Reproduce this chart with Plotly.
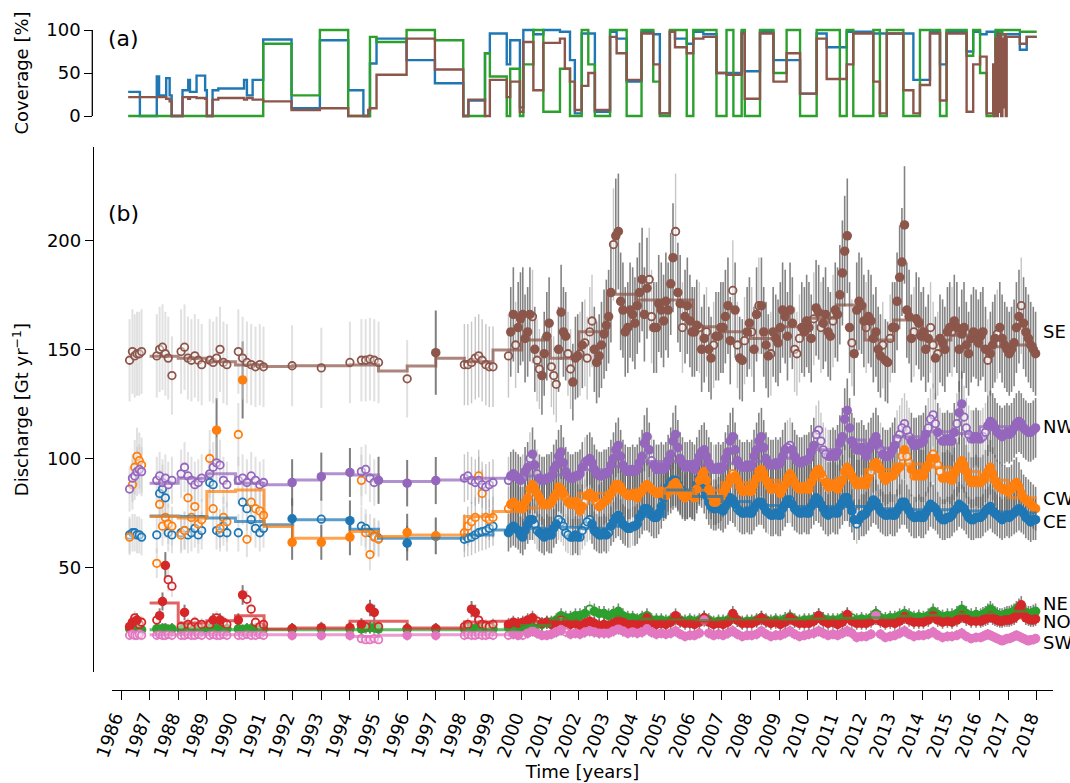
import plotly.graph_objects as go

# ---------------- data ----------------
time_early = [1986.30, 1986.40, 1986.48, 1986.56, 1986.64, 1986.72,
              1987.25, 1987.35, 1987.45, 1987.55, 1987.65, 1987.78,
              1988.10, 1988.22, 1988.34, 1988.46, 1988.58, 1988.70, 1988.82,
              1989.10, 1989.22, 1989.34, 1989.46, 1989.58, 1989.70,
              1990.10, 1990.25, 1990.40, 1990.55, 1990.70, 1990.85, 1990.98,
              1991.98, 1993.00, 1994.00, 1994.40, 1994.55, 1994.70, 1994.85, 1995.00, 1996.00, 1997.00,
              1998.00, 1998.12, 1998.25, 1998.38, 1998.50, 1998.62, 1998.75, 1998.87, 1999.00]
time_dense = [1999.54, 1999.71, 1999.88,
              2000.04, 2000.21, 2000.38, 2000.54, 2000.71, 2000.88,
              2001.04, 2001.21, 2001.38, 2001.54, 2001.71, 2001.88,
              2002.04, 2002.21, 2002.38, 2002.54, 2002.71, 2002.88,
              2003.04, 2003.21, 2003.38, 2003.54, 2003.71, 2003.88,
              2004.04, 2004.21, 2004.38, 2004.54, 2004.71, 2004.88,
              2005.04, 2005.21, 2005.38, 2005.54, 2005.71, 2005.88,
              2006.04, 2006.21, 2006.38, 2006.54, 2006.71, 2006.88,
              2007.04, 2007.21, 2007.38, 2007.54, 2007.71, 2007.88,
              2008.04, 2008.21, 2008.38, 2008.54, 2008.71, 2008.88,
              2009.04, 2009.21, 2009.38, 2009.54, 2009.71, 2009.88,
              2010.04, 2010.21, 2010.38, 2010.54, 2010.71, 2010.88,
              2011.04, 2011.21, 2011.38, 2011.54, 2011.71, 2011.88,
              2012.04, 2012.21, 2012.38, 2012.54, 2012.71, 2012.88,
              2013.04, 2013.21, 2013.38, 2013.54, 2013.71, 2013.88,
              2014.04, 2014.21, 2014.38, 2014.54, 2014.71, 2014.88,
              2015.04, 2015.21, 2015.38, 2015.54, 2015.71, 2015.88,
              2016.04, 2016.12, 2016.21, 2016.29, 2016.38, 2016.46, 2016.54, 2016.62, 2016.71, 2016.79, 2016.88, 2016.96,
              2017.04, 2017.12, 2017.21, 2017.29, 2017.38, 2017.46, 2017.54, 2017.62, 2017.71, 2017.79, 2017.88, 2017.96]
time = time_early + time_dense

# extra samples in between (only read for the four large regions)
time_mid = [1999.62, 1999.79, 1999.96,
            2000.12, 2000.29, 2000.46, 2000.62, 2000.79, 2000.96,
            2001.12, 2001.29, 2001.46, 2001.62, 2001.79, 2001.96,
            2002.12, 2002.29, 2002.46, 2002.62, 2002.79, 2002.96,
            2003.12, 2003.29, 2003.46, 2003.62, 2003.79, 2003.96,
            2004.12, 2004.29, 2004.46, 2004.62, 2004.79, 2004.96,
            2005.12, 2005.29, 2005.46, 2005.62, 2005.79, 2005.96,
            2006.12, 2006.29, 2006.46, 2006.62, 2006.79, 2006.96,
            2007.12, 2007.29, 2007.46, 2007.62, 2007.79, 2007.96,
            2008.12, 2008.29, 2008.46, 2008.62, 2008.79, 2008.96,
            2009.12, 2009.29, 2009.46, 2009.62, 2009.79, 2009.96,
            2010.12, 2010.29, 2010.46, 2010.62, 2010.79, 2010.96,
            2011.12, 2011.29, 2011.46, 2011.62, 2011.79, 2011.96,
            2012.12, 2012.29, 2012.46, 2012.62, 2012.79, 2012.96,
            2013.12, 2013.29, 2013.46, 2013.62, 2013.79, 2013.96,
            2014.12, 2014.29, 2014.46, 2014.62, 2014.79, 2014.96,
            2015.12, 2015.29, 2015.46, 2015.62, 2015.79, 2015.96]

CE = [65, 66, 66, 65, 65, 64,
      65, 84, 86, 82, 66, 65,
      66, 67, 65, 66, 68, 65, 67,
      89, 88, 67, 66, 69, 66,
      66, 80, 77, 72, 68, 66, 68,
      72.4, 72.2, 71.5, 69, 68, 66, 64.5, 63.5, 61.2, 64.3,
      63, 63.5, 64, 65, 66, 66.5, 67, 68, 69,
      66, 69, 67,
      64, 70, 72, 67, 65, 66,
      65, 70, 71, 66, 64, 65,
      64, 69, 72, 67, 65, 66,
      66, 71, 74, 70, 68, 69,
      70, 75, 77, 74, 73, 78,
      84, 89, 90, 86, 83, 84,
      83, 91, 86, 80, 77, 78,
      76, 80, 81, 77, 75, 76,
      75, 79, 80, 76, 74, 75,
      74, 79, 81, 77, 75, 76,
      75, 80, 81, 77, 74, 76,
      75, 80, 82, 76, 70, 74,
      75, 79, 80, 76, 74, 75,
      74, 78, 80, 76, 73, 74,
      73, 77, 78, 75, 72, 73,
      74, 77, 78, 75, 72, 73,
      73, 74, 76, 77, 78, 76, 75, 74, 73, 72, 73, 74,
      73, 74, 75, 76, 77, 76, 75, 73, 72, 71, 72, 72]
CE_mid = [68, 68, 65,
          67, 72, 70, 66, 64, 65,
          68, 72, 69, 65, 64, 64,
          67, 71, 70, 66, 65, 65,
          69, 73, 72, 69, 68, 69,
          73, 77, 76, 73, 75, 82,
          87, 90, 88, 84, 83, 83,
          88, 89, 83, 78, 77, 77,
          78, 82, 79, 76, 75, 75,
          77, 80, 78, 75, 74, 74,
          77, 81, 79, 76, 75, 75,
          78, 82, 79, 75, 75, 75,
          78, 82, 79, 72, 72, 74,
          77, 81, 78, 75, 74, 74,
          76, 80, 78, 74, 73, 73,
          75, 79, 77, 73, 72, 73,
          76, 79, 77, 73, 72, 73]

CW = [64, 88, 96, 101, 99, 97,
      52, 79, 69, 73, 70, 69,
      65, 67, 82, 73, 78, 70, 72,
      100, 77, 113, 68, 73, 71,
      111, 136, 63, 80, 77, 76, 74,
      61.6, 61.6, 64, 90, 66, 56, 64, 63, 66.1, 64.6,
      66, 69, 71, 73, 92, 84, 73, 72, 73,
      77, 80, 78,
      77, 82, 88, 84, 80, 79,
      80, 84, 86, 82, 79, 80,
      76, 80, 84, 82, 78, 80,
      82, 86, 88, 85, 83, 84,
      82, 85, 88, 86, 84, 85,
      83, 86, 89, 85, 82, 84,
      82, 90, 94, 86, 80, 81,
      84, 88, 93, 90, 85, 86,
      85, 91, 95, 90, 86, 87,
      84, 88, 93, 89, 86, 87,
      86, 92, 95, 91, 87, 88,
      86, 90, 96, 92, 88, 89,
      88, 94, 98, 95, 90, 92,
      93, 96, 104, 98, 92, 93,
      92, 97, 102, 97, 91, 92,
      90, 95, 99, 94, 89, 90,
      89, 90, 92, 94, 96, 93, 90, 88, 87, 86, 86, 85,
      85, 86, 88, 89, 87, 84, 82, 81, 80, 79, 78, 77]
CW_mid = [79, 79, 77,
          80, 86, 86, 82, 79, 79,
          82, 87, 84, 80, 79, 78,
          78, 83, 83, 80, 79, 81,
          84, 88, 87, 84, 83, 83,
          84, 87, 87, 85, 84, 84,
          85, 88, 87, 83, 83, 83,
          86, 93, 90, 83, 80, 82,
          86, 91, 92, 87, 85, 85,
          88, 94, 93, 88, 86, 86,
          86, 91, 91, 87, 86, 86,
          89, 94, 93, 89, 87, 87,
          88, 94, 94, 90, 88, 88,
          91, 97, 97, 92, 91, 92,
          95, 101, 101, 95, 92, 92,
          95, 100, 100, 94, 91, 91,
          93, 97, 97, 91, 89, 89]

NE = [22, 22, 21.5, 22, 22, 21.5,
      22, 21.5, 22, 22, 21.5, 22,
      21.5, 22, 22, 21.5, 22, 22, 21.5,
      22, 21.5, 22, 22, 21.5, 22,
      22, 21.5, 22, 22, 22, 21.5, 22,
      22, 22, 22, 22, 22.5, 22.5, 22.5, 22, 22, 22,
      22, 22.5, 22, 22, 22.5, 22, 22, 22.5, 22,
      22.5, 23, 22.5,
      23, 24, 25, 24, 24, 25,
      25, 26, 28, 27, 27, 28,
      28, 29, 31, 30, 29, 29,
      28, 29, 30, 28, 27, 27,
      26, 27, 28, 26, 26, 26,
      25.5, 26, 27, 26, 25.5, 26,
      25.5, 26, 27, 26, 25, 25.5,
      25.5, 26, 27.5, 26, 25, 25.5,
      25.5, 26, 27, 26, 25.5, 26,
      25.5, 26.5, 27.5, 26, 25.5, 26,
      26, 26.5, 28, 26.5, 26, 26,
      26, 27, 28, 27, 26, 26.5,
      26, 27, 29, 27, 26.5, 27,
      27, 28, 29, 28, 27, 27.5,
      27, 28, 30, 28.5, 27.5, 28,
      28, 29, 31, 29, 28, 28.5,
      28, 28.5, 29, 30, 31, 30, 29, 28.5, 28, 28, 28.5, 29,
      29, 29.5, 30, 31, 32, 31, 30, 29.5, 29, 29, 29.5, 30]

NO = [23, 25, 27, 26, 24, 25,
      26, 28, 34.5, 51, 44.5, 41.5,
      23, 29.5, 24, 23, 25, 23, 24,
      24, 26, 27, 26, 25, 24,
      26, 37.5, 35.5, 31, 25, 23, 24,
      22, 22.5, 22.5, 24, 23, 31.5, 29.5, 23, 22, 22,
      23, 24, 31, 29.5, 26, 24, 23.5, 23, 24,
      24, 25, 24.5,
      25, 26, 27, 25.5, 24.5, 25,
      24, 25, 26, 25, 24, 24.5,
      23.5, 24.5, 25.5, 24.5, 23.5, 24,
      23.5, 24.5, 26, 25, 24, 24,
      24, 25, 27, 25, 24, 24.5,
      24, 25, 28, 25.5, 24.5, 24.5,
      24, 25, 27, 25, 24, 24.5,
      24, 25, 29, 26, 24.5, 24.5,
      24.5, 25.5, 27, 25.5, 24.5, 25,
      24, 25, 27, 25.5, 24.5, 24.5,
      24.5, 25.5, 28, 25.5, 24.5, 25,
      24, 25, 28.5, 25.5, 24.5, 24.5,
      24.5, 25.5, 27, 25.5, 24.5, 25,
      24.5, 25.5, 27.5, 26, 25, 25,
      25, 26, 28, 26, 25, 25.5,
      25, 26, 28, 26.5, 25.5, 25.5,
      25.5, 26, 26.5, 27, 28, 27, 26.5, 26, 25.5, 25.5, 26, 26,
      26, 26.5, 27, 28, 31, 33, 29, 27, 26.5, 26, 26, 26.5]

NW = [86, 91, 92, 94, 95, 94,
      90, 92, 89, 91, 88, 90,
      93, 96, 92, 90, 88, 89, 91,
      93, 96, 98, 97, 90, 88,
      90, 91, 89, 92, 90, 88, 89,
      89, 91.7, 93.6, 94, 95, 91, 89, 90, 88.7, 89.9,
      91, 92, 90, 89, 90, 88, 87, 88, 89,
      90, 93, 91,
      91, 96, 102, 93, 90, 91,
      92, 97, 103, 94, 91, 92,
      93, 98, 100, 95, 92, 93,
      94, 100, 106, 97, 94, 95,
      95, 101, 110, 99, 95, 96,
      96, 102, 111, 100, 96, 97,
      95, 101, 104, 98, 95, 96,
      96, 103, 110, 99, 96, 97,
      97, 104, 110, 100, 97, 98,
      98, 104, 106, 101, 98, 99,
      100, 106, 113, 104, 101, 102,
      103, 110, 122, 108, 104, 105,
      101, 106, 110, 104, 101, 102,
      106, 111, 116, 110, 106, 107,
      108, 114, 120, 112, 108, 109,
      108, 116, 125, 114, 109, 110,
      109, 110, 112, 115, 117, 116, 114, 112, 111, 110, 111, 112,
      111, 112, 114, 116, 117, 116, 114, 113, 112, 112, 113, 114]
NW_mid = [92, 92, 90,
          94, 100, 97, 91, 90, 91,
          95, 101, 98, 92, 91, 92,
          96, 99, 98, 93, 92, 93,
          97, 104, 101, 95, 94, 94,
          98, 107, 104, 97, 95, 95,
          99, 108, 105, 98, 96, 96,
          98, 103, 101, 96, 95, 95,
          100, 108, 104, 97, 96, 96,
          101, 108, 105, 98, 97, 97,
          101, 105, 104, 99, 98, 99,
          103, 111, 108, 102, 101, 101,
          107, 118, 114, 106, 104, 103,
          104, 108, 107, 102, 101, 104,
          109, 114, 113, 108, 106, 107,
          111, 118, 116, 110, 108, 108,
          112, 121, 119, 111, 109, 109]

SE = [145, 149, 147, 148, 148, 149,
      147, 150, 151, 148, 146, 138,
      149, 151, 146, 145, 147, 145, 143,
      145, 144, 146, 150, 144, 143,
      149, 146, 144, 143, 142, 143, 142,
      142.5, 141.5, 144, 145, 145, 145.5, 145, 144, 136.5, 148.5,
      143, 143, 144, 146, 147, 145, 143, 142, 142,
      147, 166, 160,
      166, 158, 165, 145, 138, 156,
      142, 134, 167, 156, 141, 146,
      148, 153, 158, 150, 147, 157,
      165, 198, 204, 168, 160, 166,
      170, 182, 178, 165, 160, 168,
      172, 180, 204, 171, 165, 163,
      158, 160, 155, 150, 152, 156,
      160, 170, 177, 152, 145, 158,
      158, 166, 170, 152, 148, 155,
      160, 165, 168, 150, 155, 158,
      160, 164, 167, 162, 158, 163,
      166, 185, 202, 153, 168, 170,
      160, 163, 158, 147, 145, 155,
      160, 183, 207, 165, 158, 162,
      158, 155, 152, 148, 153, 158,
      158, 160, 157, 152, 155, 157,
      156, 158, 150, 145, 148, 152, 155, 157, 160, 155, 152, 150,
      148, 150, 153, 160, 165, 170, 162, 158, 155, 152, 150, 148]
SE_mid = [158, 152, 164,
          155, 166, 150, 141, 148, 162,
          138, 150, 158, 148, 135, 147,
          152, 146, 163, 144, 152, 161,
          176, 202, 172, 158, 168, 162,
          176, 166, 182, 160, 171, 163,
          168, 192, 176, 160, 170, 158,
          161, 150, 158, 146, 156, 160,
          165, 154, 168, 146, 154, 162,
          150, 170, 158, 147, 158, 153,
          168, 156, 162, 148, 160, 163,
          155, 169, 160, 166, 156, 168,
          175, 195, 160, 148, 172, 163,
          165, 155, 150, 152, 144, 160,
          172, 190, 168, 155, 164, 156,
          150, 160, 146, 155, 150, 160,
          163, 150, 160, 148, 158, 153]

SW = [19, 19.5, 19, 19, 19.5, 19,
      19, 19.5, 19, 19, 19.5, 19,
      19, 19, 19.5, 19, 19, 19.5, 19,
      19, 19.5, 19, 19, 19.5, 19,
      19, 19, 19.5, 19, 19, 19.5, 19,
      19, 19, 19, 17.5, 17, 17, 17.5, 17, 19, 19,
      19, 19.5, 19, 19, 19.5, 19, 19, 19.5, 19,
      19, 19.5, 19,
      19, 20, 21, 20, 19, 19,
      19.5, 20.5, 21.5, 20.5, 19.5, 20,
      19.5, 20.5, 21, 20.5, 20, 20,
      20, 21, 22, 21, 20, 20.5,
      20, 20.5, 22, 20.5, 19.5, 20,
      19.5, 20, 21, 19.5, 18.5, 19,
      19, 20, 26, 20, 19, 19.5,
      19, 20, 21, 19.5, 18.5, 19,
      19, 19.5, 21, 19.5, 18.5, 19,
      19, 20, 21, 19.5, 18.5, 19,
      19.5, 20, 21, 20, 19, 19.5,
      19, 20, 21, 20, 18, 18.5,
      18.5, 19.5, 28, 19.5, 18, 18.5,
      19, 20, 21, 19.5, 18.5, 19,
      19, 19.5, 20.5, 19, 18, 18.5,
      18.5, 19, 20, 18.5, 17.5, 18,
      18, 18.5, 19, 19.5, 19, 18.5, 18, 17.5, 17, 16.5, 17, 17.5,
      17.5, 18, 18.5, 19, 18.5, 18, 17.5, 17, 16.5, 17, 17, 17.5]

# full-coverage (1) vs partial-coverage (0) flag for each sample
fill_CE = "".join(["000000", "000000", "0000000", "000000", "0000000", "1010000010", "000000000",
                   "111", "111011", "110001", "000111", "011110", "111111", "111111", "111111", "111011",
                   "111111", "110111", "111111", "111101", "111111", "111111", "111111", "111111",
                   "111111111111", "111111111111"])
fill_CW = "".join(["000000", "000000", "0000000", "001000", "0100000", "1110000011", "000000000",
                   "011", "111111", "111011", "101111", "111111", "111101", "111111", "111111", "110111",
                   "111111", "111111", "111011", "111111", "101111", "011001", "110011", "111111",
                   "111111111111", "111111111111"])
fill_NE = "".join(["111111", "111111", "1111111", "111111", "1111111", "1111111111", "111111111",
                   "111", "111111", "111111", "110111", "111111", "111111", "111111", "111111", "111111",
                   "111111", "111111", "111111", "111011", "111111", "111111", "111111", "111111",
                   "111111111111", "111111111111"])
fill_NO = "".join(["110100", "011100", "0100000", "010100", "1100000", "1111011011", "001100000",
                   "111", "111011", "110111", "111111", "111111", "111111", "111111", "111111", "111111",
                   "111111", "111111", "111111", "111111", "111111", "111111", "111111", "111111",
                   "111111111111", "111111111111"])
fill_NW = "".join(["000000", "000000", "0000000", "000000", "0000000", "1110000111", "000000000",
                   "011", "011011", "111111", "101111", "111111", "111011", "111111", "111101", "111111",
                   "111111", "110111", "110001", "111111", "111011", "100011", "100111", "101001",
                   "000111111111", "111111111111"])
fill_SE = "".join(["000000", "000000", "0000000", "000000", "0000000", "0000000001", "000000000",
                   "011", "110011", "001101", "000111", "101111", "111011", "110111", "101101", "110011",
                   "011101", "111001", "101110", "111011", "011110", "111101", "110011", "011111",
                   "111011101111", "111110111111"])
fill_SW = "".join(["000000", "000000", "0000000", "000000", "0000000", "1110000011", "000000000",
                   "011", "011111", "111011", "111111", "111111", "111111", "111111", "111111", "111111",
                   "111111", "111111", "111111", "111111", "111111", "111111", "111111", "111111",
                   "111111111111", "111111111111"])
fill_CE_mid = "".join(["111", "110111", "100011", "001111", "111101", "111111", "111111", "111111", "111111",
                       "111011", "111111", "111111", "111111", "111111", "111111", "111111", "111111"])
fill_CW_mid = "".join(["111", "111111", "111111", "111011", "111111", "111111", "111111", "111111", "111111",
                       "111111", "111111", "111111", "111111", "110111", "100111", "111011", "111111"])
fill_NW_mid = "".join(["111", "101111", "111111", "111111", "111111", "111111", "111111", "111111", "111111",
                       "111111", "101111", "100011", "111111", "111111", "000111", "100011", "110011"])
fill_SE_mid = "".join(["101", "111011", "011011", "100111", "111111", "110111", "111011", "110111", "111101",
                       "101111", "111011", "110111", "111111", "111011", "111111", "101111", "111111"])

# relative uncertainty of discharge
rel_err = {"CE": 0.13, "CW": 0.13, "NE": 0.12, "NO": 0.12, "NW": 0.12, "SE": 0.13, "SW": 0.12}

# annual averages (steps from year to year+1)
step_edges = [1987, 1988, 1989, 1990, 1991, 1992, 1993, 1994, 1995, 1996, 1997, 1998, 1999, 2000,
              2001, 2002, 2003, 2004, 2005, 2006, 2007, 2008, 2009, 2010, 2011, 2012, 2013, 2014,
              2015, 2016, 2017, 2018]
step_CE = [73.7, 73.4, 72.7, 71.2, 69.6, 71.9, 71.9, 67.6, 63.5, 63.5, 63.5, 65.0, 67.3, 68.1, 68.5, 68.0,
           69.0, 73.4, 85.6, 82.6, 80.3, 78.5, 78.0, 78.0, 78.0, 77.0, 76.5, 76.5, 76.0, 75.5, 75.0]
step_CW = [73.4, 72.7, 84.9, 85.6, 68.9, 63.5, 63.5, 66.6, 64.3, 65.0, 65.0, 73.4, 75.7, 77.3, 81.8, 84.1,
           84.5, 86.0, 84.0, 85.5, 89.0, 90.0, 88.5, 90.0, 91.0, 95.0, 97.5, 96.0, 94.0, 90.0, 82.0]
step_NE = [21.6, 21.6, 21.6, 21.6, 21.6, 21.6, 21.6, 21.6, 21.6, 21.6, 21.6, 21.6, 21.6, 23.5, 26.5, 29.5,
           28.0, 26.5, 26.0, 25.8, 26.0, 26.0, 26.2, 26.5, 26.8, 27.0, 27.8, 28.2, 29.0, 29.2, 30.0]
step_NO = [33.8, 24.6, 25.7, 28.0, 21.9, 22.3, 22.3, 25.4, 25.4, 22.3, 22.3, 25.1, 25.4, 25.5, 24.8, 24.3,
           24.5, 25.0, 25.3, 25.0, 25.5, 25.5, 25.2, 25.5, 25.3, 25.5, 25.7, 26.0, 26.2, 26.3, 27.0]
step_NW = [88.7, 91.0, 93.0, 88.7, 88.0, 90.2, 93.0, 92.5, 89.5, 89.5, 90.2, 91.0, 91.0, 92.0, 92.5, 94.8,
           96.3, 98.6, 98.6, 97.1, 97.8, 98.6, 100.1, 104.0, 108.5, 104.7, 110.0, 112.3, 111.5, 114.6, 113.9]
step_SE = [146.9, 145.9, 144.3, 142.8, 142.1, 142.5, 142.5, 142.8, 140.1, 142.4, 145.9, 144.3, 149.7, 154.3,
           145.9, 158.1, 175.3, 172.6, 172.6, 160.4, 158.1, 155.0, 160.4, 164.2, 170.3, 154.3, 163.4, 154.3,
           156.5, 151.2, 152.0]
step_SW = [19.3, 19.3, 19.3, 19.3, 19.3, 19.3, 19.3, 18.5, 19.0, 19.3, 19.3, 19.3, 19.3, 19.7, 20.3, 20.2,
           20.7, 20.4, 19.6, 20.2, 19.5, 19.4, 19.5, 19.8, 19.8, 19.5, 19.5, 19.0, 18.6, 18.0, 17.6]

# coverage [%] (panel a)
cov_time = [1986.25, 1986.66, 1987.25, 1987.33, 1987.58, 1987.70, 1987.77, 1988.15, 1988.35, 1988.41,
            1988.64, 1988.94, 1989.00, 1989.20, 1989.40, 1990.30, 1990.40, 1990.60, 1990.97, 1991.96,
            1992.95, 1993.94, 1994.47, 1994.64, 1994.70, 1994.93, 1995.98, 1996.97, 1997.96, 1998.14,
            1998.72, 1998.89, 1999.48, 1999.60, 1999.94, 2000.06, 2000.41, 2000.76,
            2001.34, 2001.51, 2001.69, 2001.86, 2002.10, 2002.33, 2002.56, 2003.09, 2003.32, 2003.67,
            2004.19, 2004.60, 2004.83, 2005.18, 2005.36, 2005.77, 2006.00, 2006.35, 2006.81, 2007.16,
            2007.40, 2007.69, 2007.80, 2008.33, 2008.80, 2009.26, 2009.73, 2010.31, 2010.66, 2011.12,
            2011.36, 2011.59, 2012.29, 2012.52, 2012.76, 2013.34, 2013.69, 2013.92, 2014.27, 2014.62,
            2014.85, 2015.55, 2015.78, 2016.02, 2016.25, 2016.48, 2016.52, 2016.56, 2016.60, 2016.64,
            2016.68, 2016.72, 2016.76, 2016.80, 2016.84, 2016.88, 2016.92, 2016.95, 2017.41, 2017.65,
            2018.00]
cov_CE = [28, 0, 46, 24, 44, 24, 0, 30, 42, 28,
          47, 30, 0, 30, 32, 42, 24, 42, 89, 9,
          88, 30, 0, 0, 61, 90, 65, 38, 0, 18,
          73, 96, 60, 88, 10, 100, 95, 100,
          98, 98, 65, 3, 96, 96, 5, 98, 90, 40,
          98, 95, 3, 98, 90, 84, 98, 95, 50, 50,
          50, 98, 52, 98, 65, 65, 26, 96, 80, 80,
          98, 98, 96, 96, 96, 96, 42, 42, 98, 60,
          98, 75, 98, 95, 98, 98, 98, 70, 70, 98,
          98, 98, 95, 95, 95, 95, 95, 95, 77, 92,
          92]
cov_NE = [0, 0, 0, 0, 0, 0, 0, 0, 0, 0,
          0, 0, 0, 0, 0, 0, 0, 0, 84, 24,
          100, 0, 0, 0, 92, 86, 100, 88, 0, 0,
          73, 46, 0, 55, 0, 60, 100, 5,
          55, 55, 0, 0, 100, 60, 0, 100, 100, 0,
          100, 40, 0, 100, 100, 0, 100, 100, 0, 100,
          0, 100, 0, 100, 50, 100, 0, 100, 100, 0,
          100, 0, 100, 0, 100, 0, 0, 100, 100, 0,
          100, 70, 100, 50, 0, 55, 55, 100, 100, 100,
          100, 95, 95, 100, 100, 100, 100, 100, 98, 98,
          98]
cov_SE = [22, 22, 22, 22, 20, 17, 0, 22, 20, 22,
          21, 20, 0, 19, 21, 19, 21, 19, 17, 7,
          9, 0, 0, 7, 9, 48, 90, 54, 0, 19,
          0, 42, 22, 40, 5, 86, 30, 85,
          90, 55, 40, 7, 35, 50, 7, 92, 73, 42,
          96, 60, 3, 98, 80, 73, 90, 92, 50, 48,
          48, 96, 20, 96, 40, 73, 26, 90, 43, 43,
          60, 96, 40, 3, 96, 30, 3, 36, 96, 18,
          96, 5, 60, 69, 3, 60, 0, 90, 0, 95,
          5, 95, 0, 90, 10, 95, 0, 92, 84, 92,
          92]

year_ticks = [1986, 1987, 1988, 1989, 1990, 1991, 1992, 1993, 1994, 1995, 1996, 1997, 1998, 1999, 2000,
              2001, 2002, 2003, 2004, 2005, 2006, 2007, 2008, 2009, 2010, 2011, 2012, 2013, 2014, 2015,
              2016, 2017, 2018]

regions = ["CE", "CW", "NE", "NO", "NW", "SE", "SW"]
label_pos = {"SE": 158.2, "NW": 114.5, "CW": 81.8, "CE": 71.1, "NE": 33.8, "NO": 25.4, "SW": 15.5}

# ---------------- styles ----------------
colors = {"CE": "#1f77b4", "CW": "#ff7f0e", "NE": "#2ca02c", "NO": "#d62728",
          "NW": "#9467bd", "SE": "#8c564b", "SW": "#e377c2"}
values = {"CE": CE, "CW": CW, "NE": NE, "NO": NO, "NW": NW, "SE": SE, "SW": SW}
fills = {"CE": fill_CE, "CW": fill_CW, "NE": fill_NE, "NO": fill_NO, "NW": fill_NW, "SE": fill_SE, "SW": fill_SW}
mid_values = {"CE": CE_mid, "CW": CW_mid, "NW": NW_mid, "SE": SE_mid}
mid_fills = {"CE": fill_CE_mid, "CW": fill_CW_mid, "NW": fill_NW_mid, "SE": fill_SE_mid}
steps = {"CE": step_CE, "CW": step_CW, "NE": step_NE, "NO": step_NO, "NW": step_NW, "SE": step_SE, "SW": step_SW}

n = len(time)
for r in regions:
    assert len(values[r]) == n, (r, len(values[r]), n)
    assert len(fills[r]) == n, (r, len(fills[r]), n)
    assert len(steps[r]) == len(step_edges) - 1, (r, len(steps[r]))
for r in mid_values:
    assert len(mid_values[r]) == len(time_mid), (r, len(mid_values[r]))
    assert len(mid_fills[r]) == len(time_mid), (r, len(mid_fills[r]))
assert len(cov_CE) == len(cov_time) == len(cov_NE) == len(cov_SE)

# merged per-region sample lists
series = {}
for r in regions:
    ts, vs, fs = list(time), list(values[r]), fills[r]
    if r in mid_values:
        ts = ts + time_mid
        vs = vs + mid_values[r]
        fs = fs + mid_fills[r]
    series[r] = (ts, vs, fs)


def rgba(hexc, a):
    h = hexc.lstrip("#")
    return "rgba(%d,%d,%d,%.2f)" % (int(h[0:2], 16), int(h[2:4], 16), int(h[4:6], 16), a)


FONT = "DejaVu Sans"
fig = go.Figure()

# error bars (drawn first, behind everything)
err_style = {"light": ("rgba(200,200,200,0.55)", 2.0),
             "medium": ("rgba(160,160,160,0.6)", 1.4),
             "dark": ("rgba(100,100,100,0.8)", 1.6),
             "dark_early": ("rgba(105,105,105,0.85)", 2.0)}
for r in regions:
    ts, vs, fs = series[r]
    groups = {k: [] for k in err_style}
    for i in range(len(ts)):
        if fs[i] == "1":
            groups["dark_early" if ts[i] < 1999.3 else "dark"].append(i)
        elif ts[i] < 1997.5:
            groups["light"].append(i)
        else:
            groups["medium"].append(i)
    for g, idx in groups.items():
        if not idx:
            continue
        col, th = err_style[g]
        fig.add_trace(go.Scatter(
            x=[ts[i] for i in idx], y=[vs[i] for i in idx], mode="markers",
            marker=dict(size=1, color="rgba(0,0,0,0)"),
            error_y=dict(type="data", array=[vs[i] * rel_err[r] for i in idx], visible=True,
                         color=col, thickness=th, width=0),
            showlegend=False, hoverinfo="skip"))

# markers
for r in regions:
    ts, vs, fs = series[r]
    c = colors[r]
    hi = [i for i in range(len(ts)) if fs[i] == "0"]
    fi = [i for i in range(len(ts)) if fs[i] == "1"]
    fig.add_trace(go.Scatter(
        x=[ts[i] for i in hi], y=[vs[i] for i in hi], mode="markers",
        marker=dict(symbol="circle", size=7.5, color="rgba(255,255,255,0.45)", line=dict(color=c, width=1.8)),
        showlegend=False, hoverinfo="skip"))
    fig.add_trace(go.Scatter(
        x=[ts[i] for i in fi], y=[vs[i] for i in fi], mode="markers",
        marker=dict(symbol="circle", size=9.5, color=c, line=dict(width=0)),
        showlegend=False, hoverinfo="skip"))
# annual steps
for r in regions:
    s = steps[r]
    fig.add_trace(go.Scatter(
        x=step_edges, y=s + [s[-1]], mode="lines",
        line=dict(shape="hv", color=rgba(colors[r], 0.72), width=3),
        showlegend=False, hoverinfo="skip"))

# coverage panel
for name, cv in [("CE", cov_CE), ("NE", cov_NE), ("SE", cov_SE)]:
    fig.add_trace(go.Scatter(
        x=cov_time, y=cv, mode="lines", xaxis="x2", yaxis="y2",
        line=dict(shape="hv", color=colors[name], width=2.4),
        showlegend=False, hoverinfo="skip"))

W, H = 1070, 783
xd = [112 / W, 1053 / W]
ann = []
for r in regions:
    ann.append(dict(x=1041 / W, xref="paper", y=label_pos[r], yref="y", text=r, showarrow=False,
                    xanchor="left", yanchor="middle", font=dict(family=FONT, size=18, color="black")))
ann.append(dict(x=106 / W, xref="paper", y=1 - 38 / H, yref="paper", text="(a)", showarrow=False,
                xanchor="left", yanchor="middle", font=dict(family=FONT, size=22, color="black")))
ann.append(dict(x=106 / W, xref="paper", y=1 - 213 / H, yref="paper", text="(b)", showarrow=False,
                xanchor="left", yanchor="middle", font=dict(family=FONT, size=22, color="black")))

axis_font = dict(family=FONT, size=18, color="black")
fig.update_layout(
    autosize=True, margin=dict(l=0, r=0, t=0, b=0, autoexpand=False),
    paper_bgcolor="white", plot_bgcolor="white",
    font=dict(family=FONT, size=18, color="black"),
    showlegend=False,
    xaxis=dict(domain=xd, range=[1985.6855, 2018.569], anchor="free", position=1 - 690 / H,
               showline=True, linecolor="black", linewidth=1.3, ticks="outside", ticklen=9,
               tickwidth=1.3, tickcolor="black", tickvals=year_ticks, ticktext=[str(y) for y in year_ticks],
               tickangle=-70, tickfont=axis_font, showgrid=False, zeroline=False, automargin=False,
               ticklabelshift=-6,
               title=dict(text="Time [years]", font=axis_font, standoff=6)),
    yaxis=dict(domain=[1 - 672 / H, 1 - 147 / H], range=[2.2, 242.7], anchor="free", position=93 / W,
               showline=True, linecolor="black", linewidth=1.3, ticks="outside", ticklen=8,
               tickwidth=1.3, tickcolor="black", tickvals=[50, 100, 150, 200], tickfont=axis_font,
               showgrid=False, zeroline=False, automargin=False,
               title=dict(text="Discharge [Gt yr<sup>−1</sup>]", font=axis_font, standoff=12)),
    xaxis2=dict(domain=xd, matches="x", anchor="y2", visible=False),
    yaxis2=dict(domain=[1 - 119.44 / H, 1 - 26.56 / H], range=[-4, 104], anchor="free", position=92.3 / W,
                showline=False, ticks="outside", ticklen=8, tickwidth=1.3, tickcolor="black",
                tickvals=[0, 50, 100], tickfont=axis_font, showgrid=False, zeroline=False, automargin=False,
                title=dict(text="Coverage [%]", font=axis_font, standoff=12)),
    shapes=[dict(type="line", xref="paper", yref="y2", x0=92.3 / W, x1=92.3 / W, y0=0, y1=100,
                 line=dict(color="black", width=1.3))],
    annotations=ann,
)

fig.write_html("out.html",
               default_width="1070px; position:absolute; left:0px; top:0px",
               default_height="783px",
               config={"displayModeBar": False})
